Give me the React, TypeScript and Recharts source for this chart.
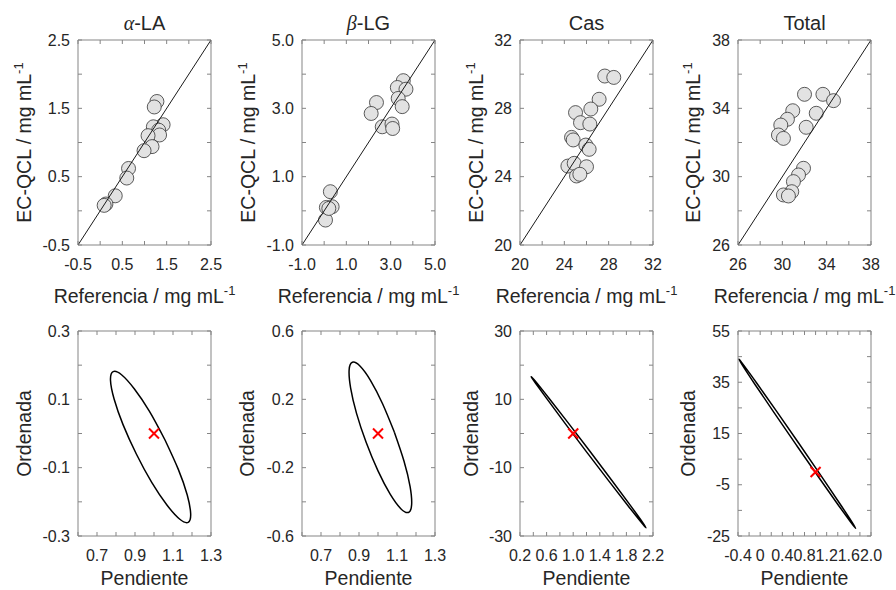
import React from "react";
import { ScatterChart, Scatter, XAxis, YAxis, ReferenceArea, Label } from "recharts";

// reference vs EC-QCL concentrations (mg/mL)
const laRef = [1.28, 1.22, 1.42, 1.2, 1.32, 1.34, 1.08, 1.17, 0.99, 0.64, 0.6, 0.34, 0.13, 0.09];
const laQcl = [1.6, 1.52, 1.26, 1.23, 1.18, 1.11, 1.1, 0.94, 0.88, 0.62, 0.48, 0.22, 0.1, 0.08];
const lgRef = [3.57, 3.3, 3.69, 3.34, 3.52, 2.36, 2.12, 2.62, 3.06, 3.09, 0.28, 0.1, 0.36, 0.06, 0.21];
const lgQcl = [3.81, 3.61, 3.56, 3.29, 3.05, 3.17, 2.85, 2.46, 2.54, 2.41, 0.56, 0.1, 0.12, -0.27, 0.07];
const casRef = [27.65, 28.46, 27.14, 26.39, 25.01, 25.46, 26.3, 24.65, 24.8, 25.94, 26.24, 24.32, 24.89, 26.0, 25.1, 25.4];
const casQcl = [29.89, 29.81, 28.53, 27.96, 27.75, 27.16, 27.08, 26.3, 26.15, 25.85, 25.6, 24.62, 24.78, 24.58, 24.04, 24.14];
const totRef = [32.0, 33.66, 34.62, 33.06, 30.94, 30.46, 29.86, 32.15, 29.65, 30.1, 31.91, 31.46, 31.0, 30.85, 30.1, 30.55];
const totQcl = [34.82, 34.82, 34.45, 33.71, 33.86, 33.36, 33.02, 32.89, 32.44, 32.24, 30.49, 30.1, 29.71, 29.12, 28.93, 28.87];

// joint confidence ellipses (slope, intercept), closed loop
const laSlopeEll = [1.058, 0.977, 0.896, 0.829, 0.785, 0.771, 0.79, 0.837, 0.907, 0.988, 1.069, 1.136, 1.18, 1.193, 1.175, 1.128, 1.058];
const laIntEll = [-0.019, 0.064, 0.131, 0.172, 0.181, 0.156, 0.101, 0.026, -0.06, -0.143, -0.21, -0.251, -0.26, -0.235, -0.18, -0.105, -0.019];
const lgSlopeEll = [1.086, 1.024, 0.961, 0.905, 0.865, 0.848, 0.856, 0.887, 0.938, 1.0, 1.064, 1.12, 1.16, 1.177, 1.169, 1.137, 1.086];
const lgIntEll = [0.008, 0.174, 0.31, 0.395, 0.417, 0.372, 0.266, 0.118, -0.053, -0.219, -0.355, -0.44, -0.462, -0.417, -0.311, -0.162, 0.008];
const casSlopeEll = [1.251, 0.919, 0.636, 0.444, 0.37, 0.429, 0.611, 0.886, 1.215, 1.546, 1.83, 2.023, 2.095, 2.036, 1.854, 1.579, 1.251];
const casIntEll = [-5.21, 3.25, 10.33, 15.04, 16.62, 14.87, 9.98, 2.75, -5.74, -14.17, -21.28, -25.99, -27.57, -25.78, -20.9, -13.67, -5.21];
const totSlopeEll = [0.694, 0.288, -0.057, -0.294, -0.382, -0.31, -0.09, 0.248, 0.648, 1.053, 1.399, 1.636, 1.724, 1.652, 1.43, 1.094, 0.694];
const totIntEll = [11.29, 23.9, 34.51, 41.58, 43.96, 41.3, 34.04, 23.27, 10.63, -1.98, -12.59, -19.61, -22.0, -19.38, -12.12, -1.35, 11.29];

// ideal point (slope 1, intercept 0)
const idealSlope = [1];
const idealIntercept = [0];

// ticks + labels
const laTicks = [-0.5, 0, 0.5, 1, 1.5, 2, 2.5];
const laLabels = ["-0.5", "", "0.5", "", "1.5", "", "2.5"];
const lgTicks = [-1, 0, 1, 2, 3, 4, 5];
const lgLabels = ["-1.0", "", "1.0", "", "3.0", "", "5.0"];
const casTicks = [20, 22, 24, 26, 28, 30, 32];
const casLabels = ["20", "", "24", "", "28", "", "32"];
const totTicks = [26, 28, 30, 32, 34, 36, 38];
const totLabels = ["26", "", "30", "", "34", "", "38"];

const slopeTicks = [0.6, 0.7, 0.8, 0.9, 1.0, 1.1, 1.2, 1.3];
const slopeLabels = ["", "0.7", "", "0.9", "", "1.1", "", "1.3"];
const laIntTicks = [-0.3, -0.2, -0.1, 0, 0.1, 0.2, 0.3];
const laIntLabels = ["-0.3", "", "-0.1", "", "0.1", "", "0.3"];
const lgIntTicks = [-0.6, -0.4, -0.2, 0, 0.2, 0.4, 0.6];
const lgIntLabels = ["-0.6", "", "-0.2", "", "0.2", "", "0.6"];
const casSlopeTicks = [0.2, 0.4, 0.6, 0.8, 1.0, 1.2, 1.4, 1.6, 1.8, 2.0, 2.2];
const casSlopeLabels = ["0.2", "", "0.6", "", "1.0", "", "1.4", "", "1.8", "", "2.2"];
const casIntTicks = [-30, -20, -10, 0, 10, 20, 30];
const casIntLabels = ["-30", "", "-10", "", "10", "", "30"];
const totSlopeTicks = [-0.4, -0.2, 0, 0.2, 0.4, 0.6, 0.8, 1.0, 1.2, 1.4, 1.6, 1.8, 2.0];
const totSlopeLabels = ["-0.4", "", "0", "", "0.4", "", "0.8", "", "1.2", "", "1.6", "", "2.0"];
const totIntTicks = [-25, -15, -5, 5, 15, 25, 35, 45, 55];
const totIntLabels = ["-25", "", "-5", "", "15", "", "35", "", "55"];

const FONT = '"Liberation Sans", Arial, Helvetica, sans-serif';
const TXT = "#262626";
const AX = "#858585";
const TICK_FS = 16;
const LABEL_FS = 19.5;
const TITLE_FS = 20;
const PLOT_W = 133;
const PLOT_H = 205;
const ML = 75;
const MR = 32;
const MT = 40;
const MB = 70;
const TICK_LEN = 4;
const COLS = [78, 302, 520, 738];
const TOP_Y = 40;
const BOT_Y = 331;

const zip = (xs: number[], ys: number[]) => xs.map((x, i) => ({ x, y: ys[i] }));

const noShape = () => <g />;
const circleShape = (s: any) => (
  <circle cx={s.cx} cy={s.cy} r={7} fill="#e2e2e2" stroke="#333" strokeWidth={0.8} />
);
const crossShape = (s: any) => (
  <g stroke="#ff0000" strokeWidth={2}>
    <line x1={s.cx - 5} y1={s.cy - 5} x2={s.cx + 5} y2={s.cy + 5} />
    <line x1={s.cx - 5} y1={s.cy + 5} x2={s.cx + 5} y2={s.cy - 5} />
  </g>
);

function xTick(ticks: number[], labels: string[]) {
  return (p: any) => {
    const { x, y, payload } = p;
    const lab = labels[ticks.indexOf(payload.value)];
    return (
      <g>
        <line x1={x} x2={x} y1={y} y2={y - TICK_LEN} stroke={AX} />
        <line x1={x} x2={x} y1={y - PLOT_H} y2={y - PLOT_H + TICK_LEN} stroke={AX} />
        {lab ? (
          <text x={x} y={y + 19} dy="0.35em" textAnchor="middle" fontSize={TICK_FS} fill={TXT} fontFamily={FONT}>
            {lab}
          </text>
        ) : null}
      </g>
    );
  };
}

function yTick(ticks: number[], labels: string[]) {
  return (p: any) => {
    const { x, y, payload } = p;
    const lab = labels[ticks.indexOf(payload.value)];
    return (
      <g>
        <line x1={x} x2={x + TICK_LEN} y1={y} y2={y} stroke={AX} />
        <line x1={x + PLOT_W} x2={x + PLOT_W - TICK_LEN} y1={y} y2={y} stroke={AX} />
        {lab ? (
          <text x={x - 8} y={y} dy="0.35em" textAnchor="end" fontSize={TICK_FS} fill={TXT} fontFamily={FONT}>
            {lab}
          </text>
        ) : null}
      </g>
    );
  };
}

type PanelProps = {
  left: number;
  top: number;
  xTicks: number[];
  xLabels: string[];
  yTicks: number[];
  yLabels: string[];
  title?: React.ReactNode;
  xTitle: React.ReactNode;
  yTitle: React.ReactNode;
  xTitleGap: number;
  yTitleGap: number;
  series: React.ReactNode[];
};

function Panel(p: PanelProps) {
  const xMin = p.xTicks[0];
  const xMax = p.xTicks[p.xTicks.length - 1];
  const yMin = p.yTicks[0];
  const yMax = p.yTicks[p.yTicks.length - 1];
  const cx = ML + PLOT_W / 2;
  const cy = MT + PLOT_H / 2;
  return (
    <div style={{ position: "absolute", left: p.left - ML, top: p.top - MT }}>
      <ScatterChart
        width={ML + PLOT_W + MR}
        height={MT + PLOT_H + MB}
        margin={{ top: MT, right: MR, bottom: MB - 1, left: ML - 1 }}
      >
        <XAxis
          type="number"
          dataKey="x"
          domain={[xMin, xMax]}
          ticks={p.xTicks}
          interval={0}
          allowDataOverflow
          height={1}
          tickSize={0}
          tickMargin={0}
          tickLine={false}
          axisLine={false}
          tick={xTick(p.xTicks, p.xLabels)}
        >
          <Label
            content={() => (
              <g fontFamily={FONT} fill={TXT}>
                <text x={cx} y={MT + PLOT_H + p.xTitleGap} dy="0.35em" textAnchor="middle" fontSize={LABEL_FS}>
                  {p.xTitle}
                </text>
                {p.title ? (
                  <text x={cx} y={MT - 17} dy="0.35em" textAnchor="middle" fontSize={TITLE_FS}>
                    {p.title}
                  </text>
                ) : null}
              </g>
            )}
          />
        </XAxis>
        <YAxis
          type="number"
          dataKey="y"
          domain={[yMin, yMax]}
          ticks={p.yTicks}
          interval={0}
          allowDataOverflow
          width={1}
          tickSize={0}
          tickMargin={0}
          tickLine={false}
          axisLine={false}
          tick={yTick(p.yTicks, p.yLabels)}
        >
          <Label
            content={() => (
              <text
                x={ML - p.yTitleGap}
                y={cy}
                dy="0.35em"
                textAnchor="middle"
                fontSize={LABEL_FS}
                fontFamily={FONT}
                fill={TXT}
                transform={`rotate(-90 ${ML - p.yTitleGap} ${cy})`}
              >
                {p.yTitle}
              </text>
            )}
          />
        </YAxis>
        <ReferenceArea x1={xMin} x2={xMax} y1={yMin} y2={yMax} fill="none" stroke={AX} strokeWidth={1} />
        {p.series}
      </ScatterChart>
    </div>
  );
}

const sup = (base: string) => (
  <>
    {base}
    <tspan dy={-8} fontSize={13}>
      -1
    </tspan>
  </>
);

function topSeries(refs: number[], qcl: number[], ticks: number[]) {
  const lo = ticks[0];
  const hi = ticks[ticks.length - 1];
  return [
    <Scatter key="pts" data={zip(refs, qcl)} shape={circleShape} isAnimationActive={false} />,
    <Scatter
      key="diag"
      data={zip([lo, hi], [lo, hi])}
      line={{ stroke: "#1a1a1a", strokeWidth: 1, fill: "none" }}
      lineType="joint"
      shape={noShape}
      isAnimationActive={false}
    />,
  ];
}

function botSeries(slopes: number[], ints: number[]) {
  return [
    <Scatter
      key="ell"
      data={zip(slopes, ints)}
      line={{ stroke: "#000", strokeWidth: 1.5, fill: "none" }}
      lineType="joint"
      lineJointType="natural"
      shape={noShape}
      isAnimationActive={false}
    />,
    <Scatter key="ideal" data={zip(idealSlope, idealIntercept)} shape={crossShape} isAnimationActive={false} />,
  ];
}

export default function App() {
  const qclTitle = sup("EC-QCL / mg mL");
  const refTitle = sup("Referencia / mg mL");
  return (
    <div
      style={{
        position: "absolute",
        left: 0,
        top: 0,
        width: 896,
        height: 590,
        overflow: "hidden",
        background: "#fff",
        fontFamily: FONT,
      }}
    >
      <Panel
        left={COLS[0]}
        top={TOP_Y}
        xTicks={laTicks}
        xLabels={laLabels}
        yTicks={laTicks}
        yLabels={laLabels}
        title={
          <>
            <tspan fontStyle="italic" fontFamily='"Liberation Serif", serif'>
              α
            </tspan>
            -LA
          </>
        }
        xTitle={refTitle}
        yTitle={qclTitle}
        xTitleGap={51}
        yTitleGap={54}
        series={topSeries(laRef, laQcl, laTicks)}
      />
      <Panel
        left={COLS[1]}
        top={TOP_Y}
        xTicks={lgTicks}
        xLabels={lgLabels}
        yTicks={lgTicks}
        yLabels={lgLabels}
        title={
          <>
            <tspan fontStyle="italic" fontFamily='"Liberation Serif", serif'>
              β
            </tspan>
            -LG
          </>
        }
        xTitle={refTitle}
        yTitle={qclTitle}
        xTitleGap={51}
        yTitleGap={54}
        series={topSeries(lgRef, lgQcl, lgTicks)}
      />
      <Panel
        left={COLS[2]}
        top={TOP_Y}
        xTicks={casTicks}
        xLabels={casLabels}
        yTicks={casTicks}
        yLabels={casLabels}
        title="Cas"
        xTitle={refTitle}
        yTitle={qclTitle}
        xTitleGap={51}
        yTitleGap={44}
        series={topSeries(casRef, casQcl, casTicks)}
      />
      <Panel
        left={COLS[3]}
        top={TOP_Y}
        xTicks={totTicks}
        xLabels={totLabels}
        yTicks={totTicks}
        yLabels={totLabels}
        title="Total"
        xTitle={refTitle}
        yTitle={qclTitle}
        xTitleGap={51}
        yTitleGap={45}
        series={topSeries(totRef, totQcl, totTicks)}
      />

      <Panel
        left={COLS[0]}
        top={BOT_Y}
        xTicks={slopeTicks}
        xLabels={slopeLabels}
        yTicks={laIntTicks}
        yLabels={laIntLabels}
        xTitle="Pendiente"
        yTitle="Ordenada"
        xTitleGap={42}
        yTitleGap={54}
        series={botSeries(laSlopeEll, laIntEll)}
      />
      <Panel
        left={COLS[1]}
        top={BOT_Y}
        xTicks={slopeTicks}
        xLabels={slopeLabels}
        yTicks={lgIntTicks}
        yLabels={lgIntLabels}
        xTitle="Pendiente"
        yTitle="Ordenada"
        xTitleGap={42}
        yTitleGap={55}
        series={botSeries(lgSlopeEll, lgIntEll)}
      />
      <Panel
        left={COLS[2]}
        top={BOT_Y}
        xTicks={casSlopeTicks}
        xLabels={casSlopeLabels}
        yTicks={casIntTicks}
        yLabels={casIntLabels}
        xTitle="Pendiente"
        yTitle="Ordenada"
        xTitleGap={42}
        yTitleGap={49}
        series={botSeries(casSlopeEll, casIntEll)}
      />
      <Panel
        left={COLS[3]}
        top={BOT_Y}
        xTicks={totSlopeTicks}
        xLabels={totSlopeLabels}
        yTicks={totIntTicks}
        yLabels={totIntLabels}
        xTitle="Pendiente"
        yTitle="Ordenada"
        xTitleGap={42}
        yTitleGap={50}
        series={botSeries(totSlopeEll, totIntEll)}
      />
    </div>
  );
}
